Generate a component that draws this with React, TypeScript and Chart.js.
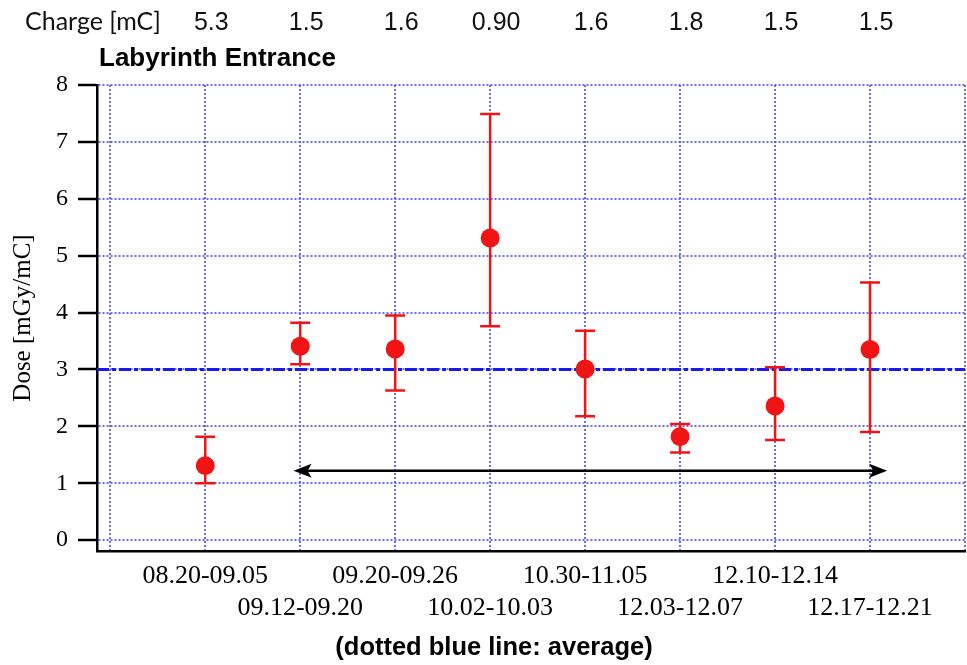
import React, { useEffect, useRef } from 'react';
import { Chart, registerables } from 'chart.js';

Chart.register(...registerables);

// ---- data ----
const categories = [
  '08.20-09.05', '09.12-09.20', '09.20-09.26', '10.02-10.03',
  '10.30-11.05', '12.03-12.07', '12.10-12.14', '12.17-12.21',
];
const charges = ['5.3', '1.5', '1.6', '0.90', '1.6', '1.8', '1.5', '1.5'];
const doseValues = [1.31, 3.41, 3.36, 5.31, 3.01, 1.82, 2.36, 3.35];
const errorLow = [1.0, 3.09, 2.63, 3.76, 2.18, 1.54, 1.76, 1.9];
const errorHigh = [1.82, 3.82, 3.95, 7.49, 3.68, 2.04, 3.04, 4.53];
const averageDose = 3.0;
const arrowSpan = [1.93, 8.18];
const arrowLevel = 1.22;
const yTickValues = [0, 1, 2, 3, 4, 5, 6, 7, 8];
const xGridValues = [0, 1, 2, 3, 4, 5, 6, 7, 8, 9];
const xBounds = [-0.14, 9];
const yBounds = [-0.19, 8];

const GRID_BLUE = 'rgba(85, 85, 220, 0.85)';
const RED = '#f01414';
const SERIF = '"Liberation Serif", "Times New Roman", serif';
const SANS = '"Liberation Sans", Arial, sans-serif';

const overlayPlugin = {
  id: 'overlay',
  afterDatasetDraw(chart: any, args: any) {
    if (args.index !== 1) return;
    const { ctx } = chart;
    const x = chart.scales.x;
    const y = chart.scales.y;
    ctx.save();
    // error bars
    ctx.strokeStyle = RED;
    ctx.lineWidth = 2.5;
    ctx.setLineDash([]);
    doseValues.forEach((_, i) => {
      const px = x.getPixelForValue(i + 1);
      const top = y.getPixelForValue(errorHigh[i]);
      const bot = y.getPixelForValue(errorLow[i]);
      ctx.beginPath();
      ctx.moveTo(px, top);
      ctx.lineTo(px, bot);
      ctx.moveTo(px - 10, top);
      ctx.lineTo(px + 10, top);
      ctx.moveTo(px - 10, bot);
      ctx.lineTo(px + 10, bot);
      ctx.stroke();
    });
    // double-headed arrow
    const ax1 = x.getPixelForValue(arrowSpan[0]);
    const ax2 = x.getPixelForValue(arrowSpan[1]);
    const ay = y.getPixelForValue(arrowLevel);
    ctx.strokeStyle = '#000';
    ctx.fillStyle = '#000';
    ctx.lineWidth = 2.5;
    ctx.beginPath();
    ctx.moveTo(ax1 + 8, ay);
    ctx.lineTo(ax2 - 8, ay);
    ctx.stroke();
    const head = (tip: number, dir: number) => {
      ctx.beginPath();
      ctx.moveTo(tip, ay);
      ctx.lineTo(tip + dir * 18, ay - 7);
      ctx.lineTo(tip + dir * 14, ay);
      ctx.lineTo(tip + dir * 18, ay + 7);
      ctx.closePath();
      ctx.fill();
    };
    head(ax1, 1);
    head(ax2, -1);
    ctx.restore();
  },
  afterDraw(chart: any) {
    const { ctx } = chart;
    const x = chart.scales.x;
    ctx.save();
    ctx.fillStyle = '#111';
    ctx.textBaseline = 'alphabetic';
    // charge row
    ctx.textAlign = 'left';
    ctx.font = '25px Lato, "Open Sans", sans-serif';
    ctx.fillText('Charge [mC]', 25, 30);
    ctx.textAlign = 'center';
    ctx.font = '25px ' + SANS;
    charges.forEach((c, i) => {
      ctx.fillText(c, x.getPixelForValue(i + 1) + 6, 30);
    });
    // title
    ctx.textAlign = 'left';
    ctx.fillStyle = '#000';
    ctx.font = 'bold 26px ' + SANS;
    ctx.fillText('Labyrinth Entrance', 99, 66);
    // footnote
    ctx.textAlign = 'center';
    ctx.font = 'bold 25.5px ' + SANS;
    ctx.fillText('(dotted blue line: average)', 494, 655);
    ctx.restore();
  },
};

export default function App() {
  const ref = useRef<HTMLCanvasElement>(null);

  useEffect(() => {
    if (!ref.current) return;
    const chart = new Chart(ref.current, {
      type: 'scatter',
      data: {
        datasets: [
          {
            label: 'Dose',
            data: doseValues.map((v, i) => ({ x: i + 1, y: v })),
            pointRadius: 9.5,
            pointHoverRadius: 9.5,
            pointBackgroundColor: RED,
            pointBorderWidth: 0,
            borderColor: RED,
            backgroundColor: RED,
            showLine: false,
          },
          {
            label: 'Average',
            data: [
              { x: xBounds[0], y: averageDose },
              { x: xBounds[1], y: averageDose },
            ],
            showLine: true,
            borderColor: '#1a1af0',
            borderWidth: 3,
            borderDash: [12, 3, 4, 3],
            pointRadius: 0,
            fill: false,
          },
        ],
      },
      options: {
        animation: false,
        responsive: false,
        devicePixelRatio: 1,
        events: [],
        layout: { autoPadding: false, padding: { top: 85, right: 2, left: 0, bottom: 0 } },
        plugins: {
          legend: { display: false },
          tooltip: { enabled: false },
          title: { display: false },
        },
        scales: {
          x: {
            type: 'linear',
            min: xBounds[0],
            max: xBounds[1],
            afterBuildTicks: (scale: any) => {
              scale.ticks = xGridValues.map((v) => ({ value: v }));
            },
            afterFit: (scale: any) => {
              scale.height = 114;
              scale.paddingLeft = 0;
              scale.paddingRight = 0;
            },
            grid: {
              color: GRID_BLUE,
              lineWidth: 2,
              drawTicks: false,
            },
            border: { display: true, color: '#000', width: 2.5, dash: [2, 2] },
            ticks: {
              autoSkip: false,
              maxRotation: 0,
              minRotation: 0,
              padding: 9,
              color: '#000',
              font: { family: SERIF, size: 26, lineHeight: 1.23 },
              callback: (value: any) => {
                const v = Number(value);
                if (!Number.isInteger(v) || v < 1 || v > categories.length) return '';
                const label = categories[v - 1];
                return v % 2 === 1 ? [label] : ['', label];
              },
            },
          },
          y: {
            type: 'linear',
            min: yBounds[0],
            max: yBounds[1],
            afterBuildTicks: (scale: any) => {
              scale.ticks = yTickValues.map((v) => ({ value: v }));
            },
            afterFit: (scale: any) => {
              scale.width = 97;
            },
            grid: {
              color: GRID_BLUE,
              lineWidth: 2,
              drawTicks: true,
              tickLength: 19,
              tickColor: '#000',
              tickWidth: 2.5,
            },
            border: { display: true, color: '#000', width: 2.5, dash: [2, 2] },
            ticks: {
              padding: 10,
              color: '#000',
              font: { family: SERIF, size: 24 },
              callback: (value: any) => String(value),
            },
            title: {
              display: true,
              text: 'Dose [mGy/mC]',
              color: '#000',
              font: { family: SERIF, size: 25 },
              padding: { top: 8, bottom: 0 },
            },
          },
        },
      } as any,
      plugins: [overlayPlugin],
    });
    return () => chart.destroy();
  }, []);

  return (
    <div style={{ position: 'absolute', left: 0, top: 0, width: 967, height: 665, background: '#fff' }}>
      <canvas ref={ref} width={967} height={665} style={{ display: 'block', width: 967, height: 665 }} />
    </div>
  );
}
